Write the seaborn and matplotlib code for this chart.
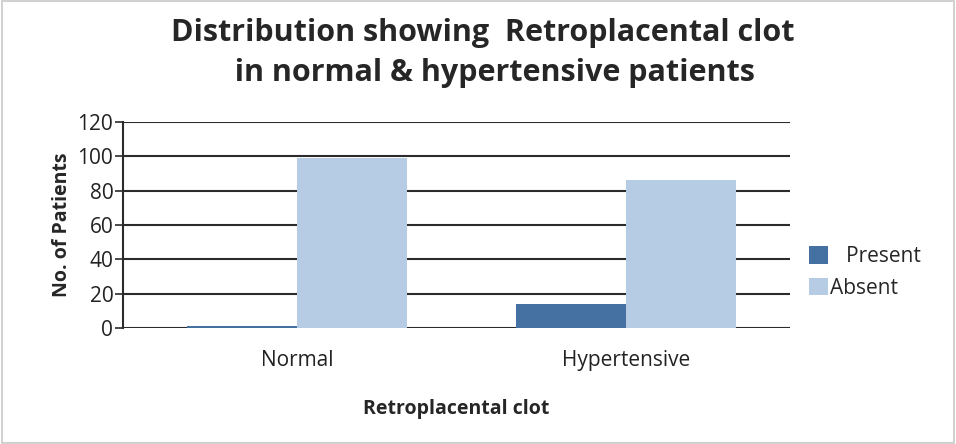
import matplotlib
matplotlib.use("Agg")
import matplotlib.pyplot as plt
import seaborn as sns
import pandas as pd
from matplotlib.patches import Rectangle

categories = ["Normal", "Hypertensive"]
series = ["Present", "Absent"]
present = [1, 14]
absent = [99, 86]
yticks = [0, 20, 40, 60, 80, 100, 120]

df = pd.DataFrame({
    "Group": categories * 2,
    "Clot": ["Present"] * len(categories) + ["Absent"] * len(categories),
    "Patients": present + absent,
})

sns.set_theme(style="white")
plt.rcParams["font.family"] = ["Open Sans", "DejaVu Sans"]

fig = plt.figure(figsize=(9.56, 4.44), dpi=100)
ax = fig.add_axes([123/956, 1 - 328/444, (790-123)/956, (328-122)/444])

sns.barplot(data=df, x="Group", y="Patients", hue="Clot", order=categories,
            hue_order=series, palette=["#4470A2", "#B6CCE4"], width=0.67,
            saturation=1, ax=ax, zorder=3, linewidth=0)

ax.set_ylim(0, 120)
ax.set_yticks(yticks)
ax.set_xlim(-0.53, 1.5)
ax.yaxis.grid(True, color="#2b2b2b", linewidth=1.5, zorder=0)
ax.set_axisbelow(True)
for s in ["top", "right", "bottom"]:
    ax.spines[s].set_visible(False)
ax.spines["left"].set_color("#2b2b2b")
ax.spines["left"].set_linewidth(1.5)
ax.tick_params(axis="y", left=True, length=6, width=1.2, color="#2b2b2b",
               labelsize=15, labelcolor="#222222", pad=1)
ax.tick_params(axis="x", bottom=False, labelsize=15, labelcolor="#222222", pad=10)
ax.set_ylabel("No. of Patients", fontsize=14, fontweight="bold", labelpad=4)
ax.set_xlabel("Retroplacental clot", fontsize=14, fontweight="bold", labelpad=20)

handles, labels = ax.get_legend_handles_labels()
ax.legend(handles, ["   Present", "Absent"], loc="center left",
          bbox_to_anchor=(1.0, 0.27), frameon=False, fontsize=15,
          handlelength=0.9, handleheight=0.9, handletextpad=0.1, labelspacing=0.5)

fig.suptitle("Distribution showing  Retroplacental clot\n   in normal & hypertensive patients",
             fontsize=22, fontweight="bold", y=0.96, x=0.505, linespacing=1.45)

fig.patches.append(Rectangle((0.002, 0.003), 0.996, 0.994, transform=fig.transFigure,
                             fill=False, edgecolor="#c8c8c8", linewidth=1.2))

fig.savefig("out.png", dpi=100)
